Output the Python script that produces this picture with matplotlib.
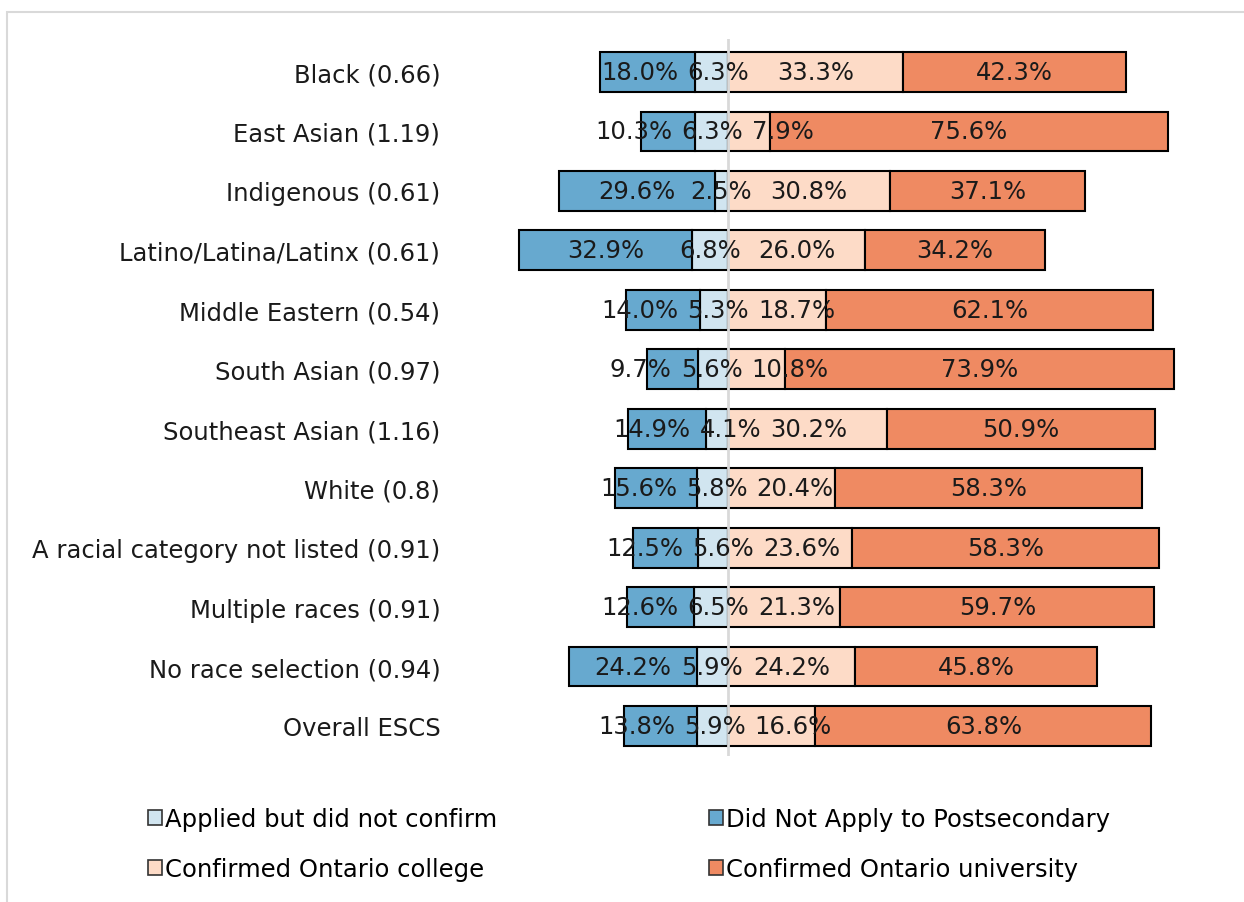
import numpy as np
import matplotlib
matplotlib.use("Agg")
import matplotlib.pyplot as plt
from matplotlib.patches import Rectangle, Patch

# categorias (de cima para baixo)
categorias = ["Black (0.66)", "East Asian (1.19)", "Indigenous (0.61)",
              "Latino/Latina/Latinx (0.61)", "Middle Eastern (0.54)",
              "South Asian (0.97)", "Southeast Asian (1.16)", "White (0.8)",
              "A racial category not listed (0.91)", "Multiple races (0.91)",
              "No race selection (0.94)", "Overall ESCS"]

nao_aplicou = [18.0, 10.3, 29.6, 32.9, 14.0, 9.7, 14.9, 15.6, 12.5, 12.6, 24.2, 13.8]
aplicou_nc = [6.3, 6.3, 2.5, 6.8, 5.3, 5.6, 4.1, 5.8, 5.6, 6.5, 5.9, 5.9]
college = [33.3, 7.9, 30.8, 26.0, 18.7, 10.8, 30.2, 20.4, 23.6, 21.3, 24.2, 16.6]
university = [42.3, 75.6, 37.1, 34.2, 62.1, 73.9, 50.9, 58.3, 58.3, 59.7, 45.8, 63.8]

cores = {"Did Not Apply to Postsecondary": "#67a9cf",
         "Applied but did not confirm": "#d1e5f0",
         "Confirmed Ontario college": "#fddbc7",
         "Confirmed Ontario university": "#ef8a62"}

FS = 17.5
fig = plt.figure(figsize=(12.44, 9.03), dpi=100)
ax = fig.add_axes([0.3651, 1 - 757 / 903, 0.6264, 717 / 903])

y = np.arange(len(categorias))
na = np.array(nao_aplicou)
anc = np.array(aplicou_nc)
col = np.array(college)
uni = np.array(university)
h = 0.67
kw = dict(height=h, edgecolor="black", linewidth=1.5, zorder=2)

# lado esquerdo (negativo)
ax.barh(y, -anc, left=0, color=cores["Applied but did not confirm"], **kw)
ax.barh(y, -na, left=-anc, color=cores["Did Not Apply to Postsecondary"], **kw)
# lado direito
ax.barh(y, col, left=0, color=cores["Confirmed Ontario college"], **kw)
ax.barh(y, uni, left=col, color=cores["Confirmed Ontario university"], **kw)

# rotulos dos segmentos, da esquerda para a direita
textos = []
for i in range(len(categorias)):
    linha = []
    for centro, v in [(-anc[i] - na[i] / 2, na[i]), (-anc[i] / 2, anc[i]),
                      (col[i] / 2, col[i]), (col[i] + uni[i] / 2, uni[i])]:
        linha.append(ax.text(centro, i, f"{v:.1f}%", ha="center", va="center",
                             fontsize=FS, color="#1a1a1a", zorder=4))
    textos.append(linha)

ax.axvline(0, color="#d9d9d9", lw=2, zorder=3)

ax.set_xlim(-52, 96)
ax.set_ylim(11 + 30 / 59.45, -33 / 59.45)
ax.set_yticks(y)
ax.set_yticklabels(categorias, fontsize=FS, color="#1a1a1a")
ax.tick_params(axis="y", length=0, pad=10)
ax.set_xticks([])
for s in ax.spines.values():
    s.set_visible(False)

# afasta rotulos que se sobrepoem
fig.canvas.draw()
r = fig.canvas.get_renderer()
px = ax.transData.transform((1, 0))[0] - ax.transData.transform((0, 0))[0]
gap = 9 / px
for linha in textos:
    xs = [t.get_position()[0] for t in linha]
    ws = [t.get_window_extent(r).width / px for t in linha]
    for _ in range(100):
        for k in range(len(xs) - 1):
            sobra = (xs[k] + ws[k] / 2 + gap) - (xs[k + 1] - ws[k + 1] / 2)
            if sobra > 0:
                xs[k] -= sobra / 2
                xs[k + 1] += sobra / 2
    for t, x in zip(linha, xs):
        t.set_x(x)

# legenda
ordem = ["Applied but did not confirm", "Confirmed Ontario college",
         "Did Not Apply to Postsecondary", "Confirmed Ontario university"]
handles = [Patch(facecolor=cores[k], edgecolor="#333333", linewidth=1.2) for k in ordem]
fig.legend(handles, ordem, loc="upper left", bbox_to_anchor=(0.1095, 0.1185),
           ncol=2, frameon=False, fontsize=FS, handlelength=0.58, handleheight=0.58,
           handletextpad=0.12, columnspacing=8.7, labelspacing=1.05, borderpad=0)

# moldura clara
fig.add_artist(Rectangle((7 / 1244, -0.2), 1.5, 1 - 13 / 903 + 0.2, transform=fig.transFigure,
                         fill=False, edgecolor="#d9d9d9", lw=1.5))

fig.savefig("out.png", dpi=100)
